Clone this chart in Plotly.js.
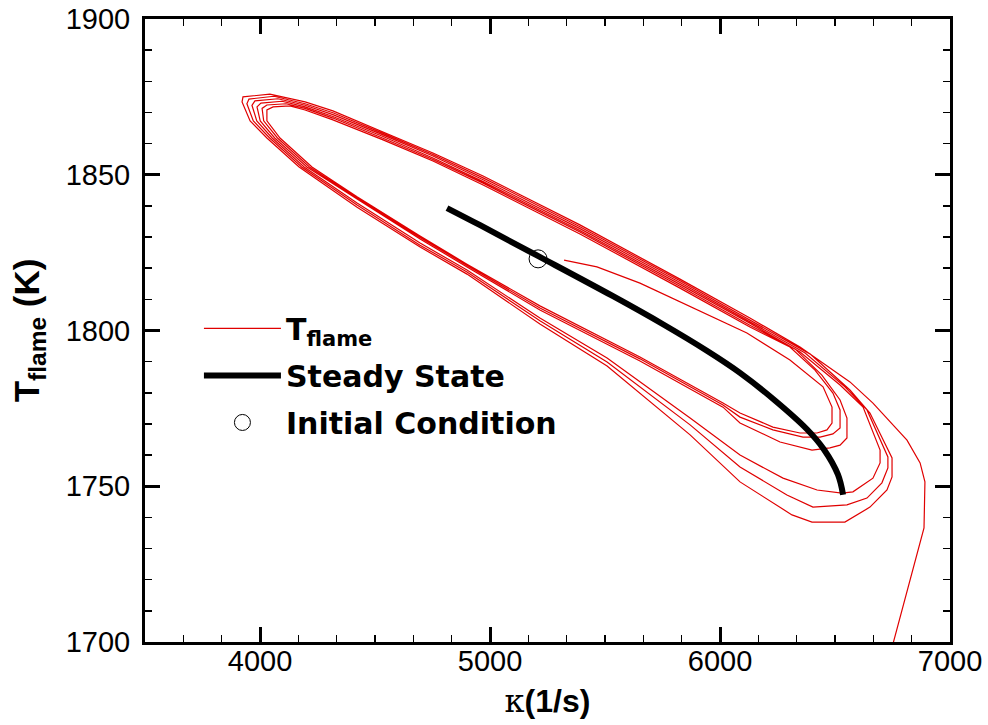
<!DOCTYPE html>
<html>
<head>
<meta charset="utf-8">
<script src="https://cdn.plot.ly/plotly-3.0.1.min.js"></script>
<style>
html,body{margin:0;padding:0;background:#fff;}
#chart{width:988px;height:725px;}
</style>
</head>
<body>
<div id="chart"></div>
<script>
// Transient flame trajectory (strain rate kappa [1/s], flame temperature [K])
const kappaFlame = [
 5322,5465,5652,6117,6304,6448,
 6487,6487,6465,6422,6348,6230,6087,6013,5652,5217,4900,4696,4422,
 4226,4087,4030,4030,4057,4130,4196,4317,4535,4752,4970,5391,5826,6130,
 6304,6413,6491,6522,6522,6491,6435,6361,6230,6087,6013,5652,5217,4900,4696,4422,
 4215,4076,4016,4009,4030,4113,4196,4317,4535,4752,4970,5391,5826,6130,
 6326,6443,6522,6552,6552,6522,6478,6400,6261,6087,6013,5652,5217,4900,4696,4422,
 4204,4064,4001,3987,4004,4096,4196,4317,4535,4752,4970,5391,5826,6130,
 6348,6522,6622,6696,6696,6665,6578,6530,6422,6274,6087,5870,5509,5217,4900,4696,4422,
 4192,4053,3986,3965,3978,4078,4196,4317,4535,4752,4970,5391,5826,6130,
 6370,6543,6639,6730,6730,6704,6639,6552,6404,6291,6087,5870,5509,5217,4900,4696,4422,
 4181,4042,3971,3943,3952,4061,4196,4317,4535,4752,4970,5391,5826,6130,
 6391,6565,6652,6748,6748,6726,6652,6543,6400,6313,6087,5870,5509,5217,4900,4696,4422,
 4170,4030,3957,3922,3926,4043,4196,4317,4535,4752,4970,5391,5826,6130,
 6348,6565,6665,6813,6870,6891,6887,6752,6739
];
const tFlame = [
 1822.6,1820.4,1815.2,1799.2,1790.5,1781.9,
 1775.4,1770.3,1768.1,1767.1,1767.1,1769.0,1773.5,1776.7,1791.5,1807.9,1821.3,1830.3,1842.9,
 1852.5,1861.8,1867.3,1870.8,1871.8,1872.1,1870.8,1867.6,1861.2,1854.4,1846.7,1831.0,1813.6,1801.1,
 1794.7,1787.3,1779.9,1774.5,1768.7,1766.8,1765.8,1765.8,1768.1,1772.2,1776.1,1790.9,1807.2,1820.9,1829.9,1842.5,
 1852.5,1861.8,1867.3,1871.3,1872.4,1872.8,1871.3,1868.2,1861.7,1854.9,1847.3,1831.6,1814.2,1801.7,
 1794.1,1785.7,1777.7,1771.9,1765.5,1763.2,1762.3,1761.6,1764.2,1770.3,1775.4,1790.2,1806.6,1820.4,1829.4,1842.2,
 1852.5,1861.8,1867.3,1871.8,1873.0,1873.6,1871.8,1868.7,1862.3,1855.4,1847.8,1832.1,1814.8,1802.3,
 1793.1,1782.5,1775.4,1761.6,1757.5,1752.6,1748.2,1747.8,1748.8,1752.6,1760.0,1771.9,1791.2,1804.0,1819.4,1828.1,1840.9,
 1852.5,1861.8,1867.3,1872.3,1873.7,1874.4,1872.3,1869.3,1862.8,1856.0,1848.4,1832.7,1815.4,1802.9,
 1792.8,1781.9,1774.5,1759.4,1755.9,1751.1,1746.2,1744.0,1743.3,1747.2,1756.2,1769.7,1789.9,1803.1,1818.8,1827.4,1840.3,
 1852.5,1861.8,1867.3,1872.8,1874.3,1875.2,1872.8,1869.9,1863.3,1856.5,1849.0,1833.3,1816.0,1803.4,
 1792.5,1780.9,1773.5,1759.1,1753.0,1748.8,1743.3,1738.5,1738.5,1740.8,1751.4,1766.5,1788.6,1802.1,1818.1,1826.8,1839.6,
 1852.5,1861.8,1867.3,1873.4,1875.0,1875.9,1873.4,1870.5,1863.7,1857.0,1849.6,1833.9,1816.5,1804.0,
 1794.7,1783.5,1776.7,1764.8,1757.5,1751.4,1736.6,1700.0,1695.8
];
// Steady-state branch
const kappaSteady = [4813,4957,5204,5535,5752,5943,6087,6230,6378,6452,6513,6535];
const tSteady = [1839.3,1833.8,1824.1,1811.0,1802.0,1793.5,1786.4,1778.1,1768.3,1761.8,1753.7,1747.3];
// Initial condition
const kappaInit = [5209];
const tInit = [1823];

const legendNames = ['T<sub>flame</sub>', 'Steady State', 'Initial Condition'];
const xTickVals = [4000,5000,6000,7000];
const yTickVals = [1700,1750,1800,1850,1900];

const FONT = 'Liberation Sans, Arial, Helvetica, sans-serif';
const LEGFONT = 'DejaVu Sans, Liberation Sans, Arial, sans-serif';

const traces = [
  {x: kappaFlame, y: tFlame, type: 'scatter', mode: 'lines', name: legendNames[0], legendgroup: 'g1',
   line: {color: '#e00000', width: 1.2}},
  {x: kappaSteady, y: tSteady, type: 'scatter', mode: 'lines', name: legendNames[1], legendgroup: 'g2',
   line: {color: '#000000', width: 6, shape: 'spline', smoothing: 1}},
  {x: kappaInit, y: tInit, type: 'scatter', mode: 'markers', name: legendNames[2], legendgroup: 'g3',
   marker: {symbol: 'circle-open', size: 18, color: '#000000', line: {width: 1, color: '#000000'}}}
];

const axisCommon = {
  showgrid: false, zeroline: false, showline: true, linecolor: '#000', linewidth: 3,
  mirror: 'ticks', ticks: 'inside', ticklen: 15, tickwidth: 3, tickcolor: '#000',
  tickfont: {family: FONT, size: 29, color: '#000'}
};

const layout = {
  width: 988, height: 725,
  margin: {l: 145, r: 38, t: 19, b: 83, pad: 0},
  paper_bgcolor: '#fff', plot_bgcolor: '#fff',
  showlegend: true,
  xaxis: Object.assign({}, axisCommon, {
    range: [3500, 7000], tickvals: xTickVals, ticktext: xTickVals.map(String),
    ticklabelstandoff: -9,
    minor: {dtick: 1000/6, tick0: 4000, ticks: 'inside', ticklen: 7, tickwidth: 1.5, tickcolor: '#000', showgrid: false},
    title: {text: "<span style='font-family:\"DejaVu Serif\",serif;font-weight:normal'>κ</span>(1/s)",
            font: {family: FONT, size: 32, weight: 'bold', color: '#000'}, standoff: 14},
    automargin: false
  }),
  yaxis: Object.assign({}, axisCommon, {
    range: [1700, 1900], tickvals: yTickVals, ticktext: yTickVals.map(String),
    ticklabelstandoff: 6,
    minor: {dtick: 10, tick0: 1700, ticks: 'inside', ticklen: 7, tickwidth: 1.5, tickcolor: '#000', showgrid: false},
    title: {text: 'T<sub>flame</sub> (K)', font: {family: FONT, size: 35, weight: 'bold', color: '#000'}, standoff: 16},
    automargin: false
  }),
  legend: {
    x: 0.067, y: 0.545, xanchor: 'left', yanchor: 'top',
    bgcolor: 'rgba(0,0,0,0)', borderwidth: 0,
    font: {family: LEGFONT, size: 30, weight: 'bold', color: '#000'},
    itemwidth: 77, tracegroupgap: 5, traceorder: 'grouped'
  }
};

Plotly.newPlot('chart', traces, layout, {displayModeBar: false, staticPlot: true});
</script>
</body>
</html>
